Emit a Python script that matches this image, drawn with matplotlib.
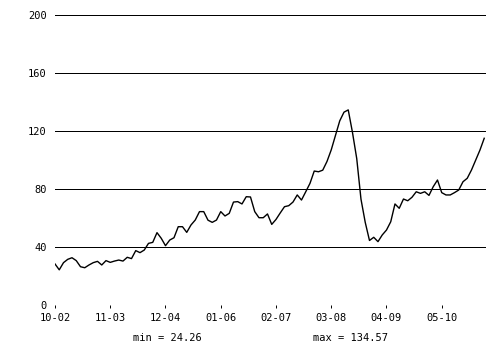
import matplotlib
matplotlib.use("Agg")
import matplotlib.pyplot as plt
import numpy as np

# Monthly values starting Oct 2002
values = [
    28.3, 24.26, 29.2, 31.5, 32.6, 30.6, 26.4, 25.7, 27.6, 29.2,
    30.1, 27.6, 30.6, 29.4, 30.3, 31.0, 30.3, 32.9, 32.0, 37.5,
    36.1, 37.9, 42.5, 43.2, 49.9, 46.0, 40.9, 44.8, 46.4, 54.0,
    54.0, 50.1, 55.2, 58.6, 64.4, 64.4, 58.5, 57.0, 58.6, 64.4,
    61.4, 63.2, 71.0, 71.3, 69.7, 74.7, 74.5, 64.4, 60.2, 60.2,
    62.8, 55.6, 59.0, 63.5, 67.8, 68.5, 71.0, 75.9, 72.4, 78.1,
    83.9, 92.4, 91.9, 93.0, 99.0, 107.0, 117.0, 127.0, 133.0, 134.57,
    119.0, 101.0, 73.0, 57.0, 44.5, 46.7, 43.7, 48.3, 51.7, 57.4,
    69.7, 66.7, 73.1, 71.9, 74.3, 78.1, 77.0, 78.1, 75.6, 81.6,
    86.2, 77.5, 75.9, 75.9, 77.5, 79.3, 85.0, 87.4, 93.1, 100.0,
    106.9, 115.0,
]
tick_months = [0, 13, 26, 39, 52, 65, 78, 91]
tick_labels = ["10-02", "11-03", "12-04", "01-06", "02-07", "03-08", "04-09", "05-10"]
y_ticks = [0, 40, 80, 120, 160, 200]

plt.rcParams['font.family'] = ['DejaVu Sans Mono']

fig = plt.figure(figsize=(5, 3.5), dpi=100)
ax = fig.add_axes([0.11, 0.1286, 0.861, 0.8284])

x = np.arange(len(values))
ax.plot(x, values, color='black', linewidth=1.0, antialiased=True)

for yv in y_ticks:
    ax.axhline(yv, color='black', linewidth=0.7, antialiased=False, zorder=0)

ax.set_xlim(0, len(values) - 0.7)
ax.set_ylim(0, 200)
ax.set_yticks(y_ticks)
ax.set_yticklabels([str(v) for v in y_ticks], fontsize=7.5)
ax.set_xticks(tick_months)
ax.set_xticklabels(tick_labels, fontsize=7.5)
ax.tick_params(axis='y', length=0, pad=6)
ax.tick_params(axis='x', length=2.5, width=0.7, direction='out', pad=3)
for s in ax.spines.values():
    s.set_visible(False)

fig.text(0.335, 0.035, "min = %.2f" % min(values), ha='center', va='center', fontsize=7.5)
fig.text(0.701, 0.035, "max = %.2f" % max(values), ha='center', va='center', fontsize=7.5)

fig.savefig("out.png", dpi=100)
